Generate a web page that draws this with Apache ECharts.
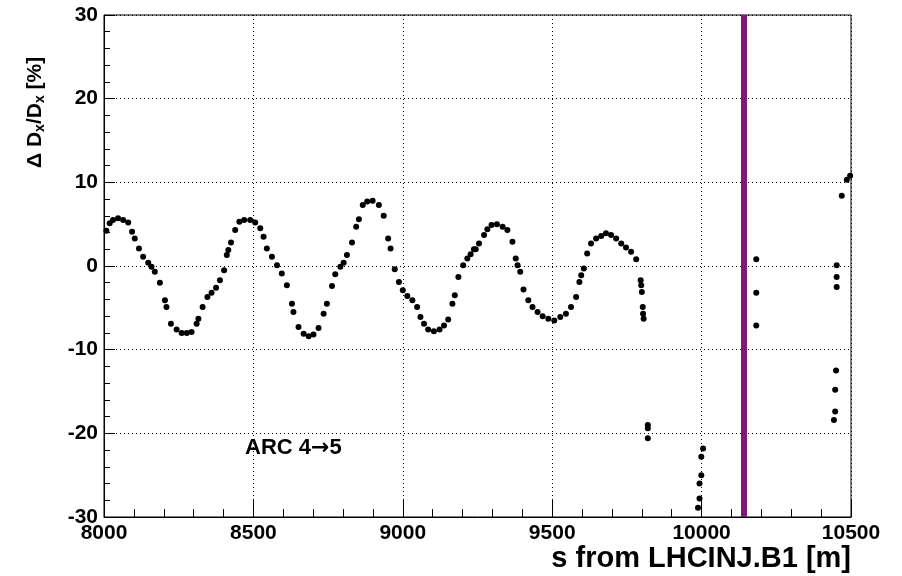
<!DOCTYPE html>
<html><head><meta charset="utf-8">
<script src="https://cdn.jsdelivr.net/npm/echarts@6/dist/echarts.min.js"></script>
<style>html,body{margin:0;padding:0;background:#fff}#c{width:902px;height:576px}</style>
</head><body><div id="c"></div>
<script>
const sPos = [8008,8019,8030,8047,8064,8081,8094,8103,8117,8131,8148,8159,8170,8187,8204,8209,8224,8243,8260,8277,8293,8310,8316,8330,8346,8360,8375,8388,8402,8411,8416,8425,8439,8453,8469,8489,8506,8523,8534,8545,8562,8579,8595,8612,
8629,8634,8651,8668,8685,8701,8718,8735,8746,8763,8774,8791,8802,8813,8830,8844,8853,8866,8881,8899,8920,8936,8951,8959,8973,8987,9000,9015,9032,9048,9059,9071,9085,9104,9123,9138,9152,9166,9174,9186,9202,9216,9227,9238,
9244,9255,9272,9283,9297,9315,9334,9350,9367,9378,9384,9393,9404,9420,9434,9451,9468,9487,9507,9527,9546,9563,9580,9591,9597,9606,9617,9630,9647,9664,9680,9697,9714,9731,9747,9764,9781,9796,9798,9800,9803,9804,9806,
9820,9820,9820,10005,9999,9999,9993,9993,9988,10183,10183,10183,10443,10447,10447,10450,10452,10452,10452,10469,10486,10497];
const dxRel = [4.2,5.1,5.5,5.7,5.5,5.2,4.1,3.3,2.1,1.1,0.4,-0.1,-0.7,-2.0,-4.1,-4.9,-6.9,-7.6,-8.0,-8.0,-7.9,-6.9,-6.3,-4.9,-3.7,-3.2,-2.6,-1.7,-0.5,1.3,1.9,2.8,4.3,5.3,5.5,5.5,5.2,4.5,3.5,2.1,1.1,0.1,-0.9,-2.3,
-4.5,-5.5,-7.3,-8.1,-8.4,-8.2,-7.4,-5.7,-4.5,-2.4,-1.0,-0.1,0.4,1.3,2.8,4.7,5.6,7.3,7.7,7.8,7.3,6.0,3.3,2.1,-0.4,-1.9,-2.9,-3.6,-4.1,-4.9,-6.1,-6.9,-7.6,-7.8,-7.6,-7.1,-6.4,-4.5,-3.5,-1.3,0.1,0.9,1.4,2.0,
2.0,2.7,3.7,4.4,4.9,5.0,4.7,4.3,2.9,0.9,0.1,-0.7,-2.8,-4.1,-4.9,-5.5,-6.0,-6.3,-6.5,-6.1,-5.7,-4.9,-3.7,-1.9,-1.1,-0.3,1.5,2.7,3.3,3.6,3.9,3.7,3.3,2.7,2.2,1.7,0.8,-1.7,-2.3,-3.1,-4.9,-5.7,-6.3,
-19.0,-19.4,-20.6,-21.8,-22.8,-25.0,-26.0,-27.8,-28.9,0.8,-3.2,-7.1,-18.4,-14.8,-17.4,-12.5,0.1,-1.3,-2.5,8.4,10.3,10.8];
const xTicks = [8000,8500,9000,9500,10000,10500];
const yTicks = [-30,-20,-10,0,10,20,30];
const ipPosition = 10141;
const arcLabel = 'ARC 4';
const arcTarget = '5';
const xTitle = 's from LHCINJ.B1 [m]';

const pts = sPos.map((s,i)=>[s,dxRel[i]]);
const F = '"Liberation Sans", Arial, "DejaVu Sans", sans-serif';
const chart = echarts.init(document.getElementById('c'));
chart.setOption({
  animation:false,
  backgroundColor:'#fff',
  grid:{left:104,right:51,top:15,bottom:59,show:true,borderColor:'#000',borderWidth:1},
  xAxis:{type:'value',min:xTicks[0],max:xTicks[xTicks.length-1],interval:500,
    axisLine:{onZero:false,lineStyle:{color:'#000',width:1}},
    axisTick:{inside:true,length:17,lineStyle:{color:'#000'}},
    minorTick:{show:true,splitNumber:5,length:8,lineStyle:{color:'#000'}},
    splitLine:{show:true,lineStyle:{color:'#000',type:[1,3],width:1}},
    axisLabel:{color:'#000',fontFamily:F,fontWeight:'bold',fontSize:21,margin:6,showMinLabel:true,showMaxLabel:true,formatter:v=>String(v)}
  },
  yAxis:{type:'value',min:yTicks[0],max:yTicks[yTicks.length-1],interval:10,
    axisLine:{show:true,onZero:false,lineStyle:{color:'#000',width:1}},
    axisTick:{show:true,inside:true,length:11,lineStyle:{color:'#000'}},
    minorTick:{show:true,splitNumber:5,length:6,lineStyle:{color:'#000'}},
    splitLine:{show:true,lineStyle:{color:'#000',type:[1,3],width:1}},
    axisLabel:{color:'#000',fontFamily:F,fontWeight:'bold',fontSize:21,margin:6,showMinLabel:true,showMaxLabel:true,formatter:v=>String(v)}
  },
  series:[{type:'scatter',data:pts,symbol:'circle',symbolSize:6,itemStyle:{color:'#000',opacity:1},z:3,
    markLine:{silent:true,symbol:'none',label:{show:false},lineStyle:{color:'#7b1c7d',width:6,type:'solid'},data:[{xAxis:ipPosition}]}
  }],
  graphic:[
    {type:'text',x:851,y:559,style:{text:xTitle,font:'bold 29px '+F,fill:'#000',align:'right',verticalAlign:'middle'}},
    {type:'text',x:245,y:448,style:{
      rich:{a:{font:'bold 22px '+F,fill:'#000'},r:{font:'bold 22px "DejaVu Sans", sans-serif',fill:'#000'}},
      text:'{a|'+arcLabel+'}{r|\u2192}{a|'+arcTarget+'}',align:'left',verticalAlign:'middle'}},
    {type:'text',x:35,y:168,rotation:Math.PI/2,style:{
      rich:{n:{font:'bold 21px '+F,fill:'#000'},s:{font:'bold 14px '+F,fill:'#000',padding:[10,0,0,0]}},
      text:'{n|\u0394 D}{s|x}{n|/D}{s|x}{n| [%]}',align:'left',verticalAlign:'middle'}}
  ]
});
</script></body></html>
